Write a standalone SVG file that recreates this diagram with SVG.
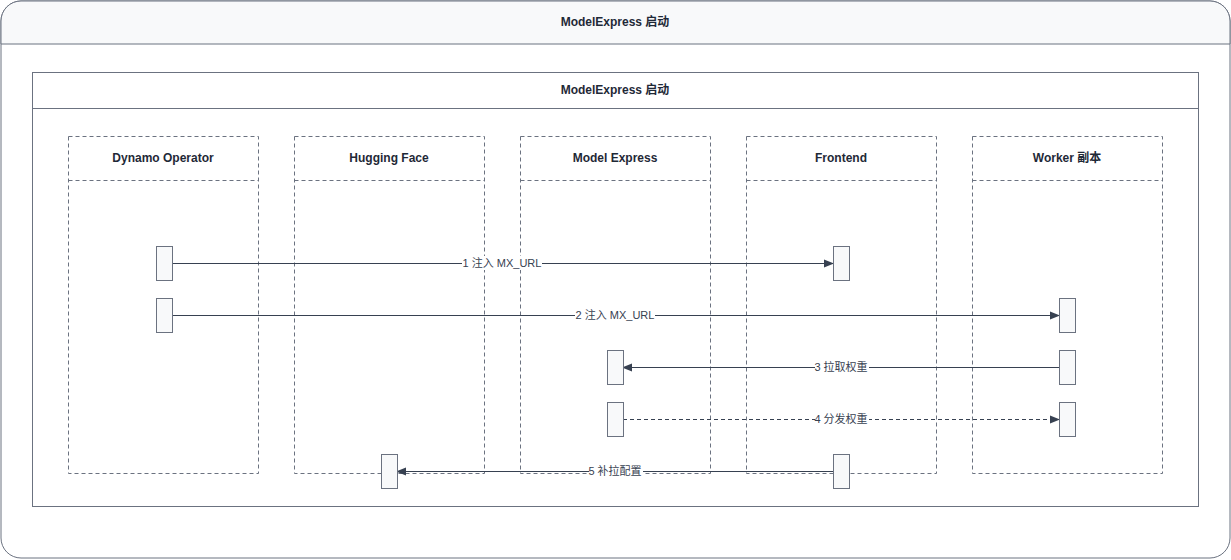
<svg xmlns="http://www.w3.org/2000/svg" width="1231" height="560" viewBox="0 0 1231 560">
<defs>
<marker id="ah" markerWidth="10" markerHeight="10" refX="9" refY="5" orient="auto" markerUnits="userSpaceOnUse"><path d="M0,1 L10,5 L0,9 Z" fill="#374151"/></marker>
<style>
text{font-family:"Liberation Sans","Noto Sans CJK SC",sans-serif;fill:#1f2937}
.t{font-size:12px;font-weight:bold;text-anchor:middle}
.lane{fill:none;stroke:#6b7280;stroke-dasharray:4 3;stroke-width:1}
.act{fill:#f8f9fa;stroke:#6b7280;stroke-width:1}
.m{stroke:#374151;stroke-width:1;fill:none;marker-end:url(#ah)}
.d{stroke-dasharray:4 3}
.lb{font-size:11px;text-anchor:middle;fill:#374151}
.bg{fill:#ffffff}
</style>
</defs>
<g id="outer">
<rect x="1" y="1" width="1229" height="557" rx="20" fill="#ffffff" stroke="#6b7280"/>
<path d="M21,1 H1210 A20,20 0 0 1 1230,21 V44 H1 V21 A20,20 0 0 1 21,1 Z" fill="#f8f9fa" stroke="#6b7280"/>
<text class="t" x="615" y="26">ModelExpress 启动</text>
</g>
<g id="inner">
<rect x="32.5" y="72.5" width="1166" height="434" fill="#ffffff" stroke="#6b7280"/>
<line x1="32.5" y1="108.5" x2="1198.5" y2="108.5" stroke="#6b7280"/>
<text class="t" x="615" y="94">ModelExpress 启动</text>
</g>
<g id="lane-dynamo"><rect class="lane" x="68.5" y="136.5" width="190" height="337"/><line class="lane" x1="68.5" y1="180.5" x2="258.5" y2="180.5"/><text class="t" x="163" y="162">Dynamo Operator</text></g>
<g id="lane-hf"><rect class="lane" x="294.5" y="136.5" width="190" height="337"/><line class="lane" x1="294.5" y1="180.5" x2="484.5" y2="180.5"/><text class="t" x="389" y="162">Hugging Face</text></g>
<g id="lane-mx"><rect class="lane" x="520.5" y="136.5" width="190" height="337"/><line class="lane" x1="520.5" y1="180.5" x2="710.5" y2="180.5"/><text class="t" x="615" y="162">Model Express</text></g>
<g id="lane-fe"><rect class="lane" x="746.5" y="136.5" width="190" height="337"/><line class="lane" x1="746.5" y1="180.5" x2="936.5" y2="180.5"/><text class="t" x="841" y="162">Frontend</text></g>
<g id="lane-worker"><rect class="lane" x="972.5" y="136.5" width="190" height="337"/><line class="lane" x1="972.5" y1="180.5" x2="1162.5" y2="180.5"/><text class="t" x="1067" y="162">Worker 副本</text></g>
<g id="connectors">
<line class="m" x1="172" y1="263.5" x2="833" y2="263.5"/>
<line class="m" x1="172" y1="315.5" x2="1059" y2="315.5"/>
<line class="m" x1="1059" y1="367.5" x2="623" y2="367.5"/>
<line class="m d" x1="623" y1="419.5" x2="1059" y2="419.5"/>
<line class="m" x1="833" y1="471.5" x2="397" y2="471.5"/>
<rect class="bg" x="462" y="256" width="80" height="14"/><text class="lb" x="502" y="267">1 注入 MX_URL</text>
<rect class="bg" x="575" y="308" width="80" height="14"/><text class="lb" x="615" y="319">2 注入 MX_URL</text>
<rect class="bg" x="815" y="360" width="54" height="14"/><text class="lb" x="841" y="371">3 拉取权重</text>
<rect class="bg" x="815" y="412" width="54" height="14"/><text class="lb" x="841" y="423">4 分发权重</text>
<rect class="bg" x="589" y="464" width="54" height="14"/><text class="lb" x="615" y="475">5 补拉配置</text>
</g>
<g id="activations">
<rect class="act" x="156.5" y="246.5" width="16" height="34"/>
<rect class="act" x="156.5" y="298.5" width="16" height="34"/>
<rect class="act" x="833.5" y="246.5" width="16" height="34"/>
<rect class="act" x="1059.5" y="298.5" width="16" height="34"/>
<rect class="act" x="1059.5" y="350.5" width="16" height="34"/>
<rect class="act" x="607.5" y="350.5" width="16" height="34"/>
<rect class="act" x="607.5" y="402.5" width="16" height="34"/>
<rect class="act" x="1059.5" y="402.5" width="16" height="34"/>
<rect class="act" x="833.5" y="454.5" width="16" height="34"/>
<rect class="act" x="381.5" y="454.5" width="16" height="34"/>
</g>
</svg>
